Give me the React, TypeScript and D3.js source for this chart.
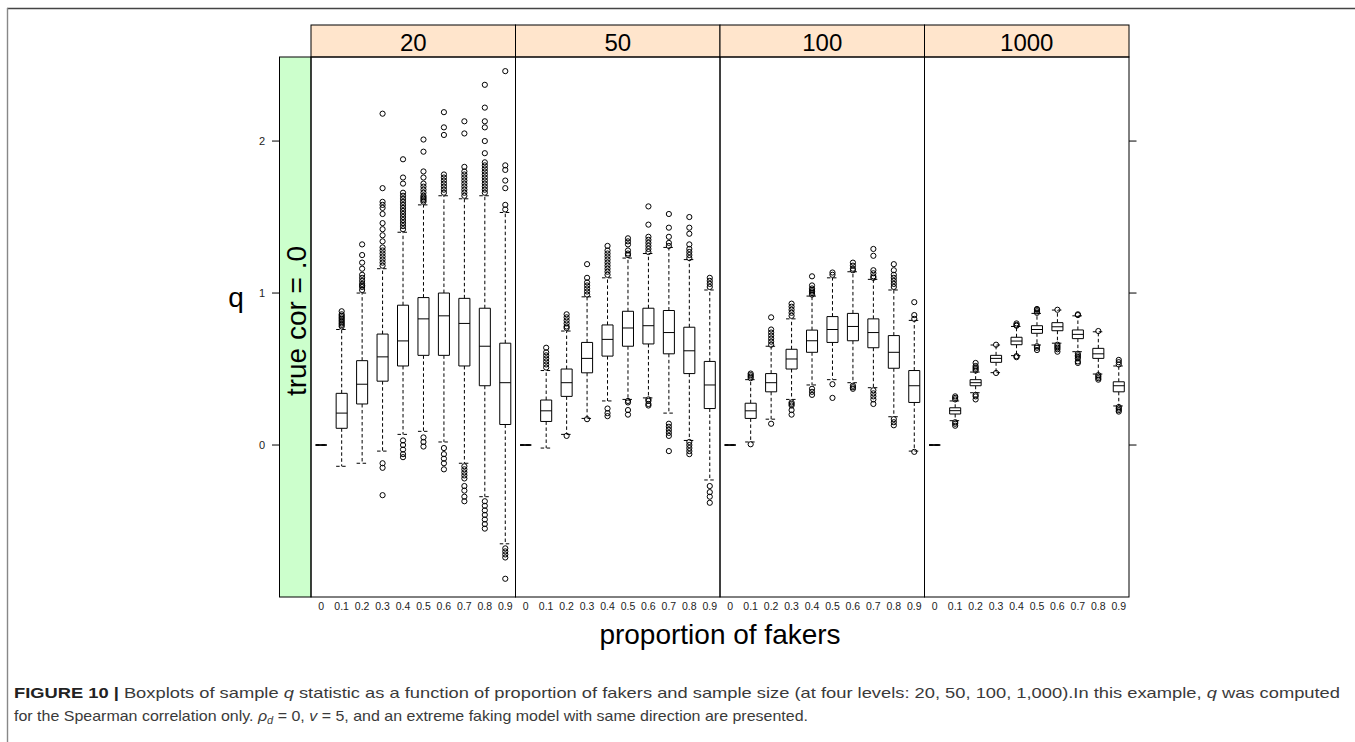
import React from 'react';
import * as d3 from 'd3';

const sampleSizes = ['20', '50', '100', '1000'];
const proportions = ['0', '0.1', '0.2', '0.3', '0.4', '0.5', '0.6', '0.7', '0.8', '0.9'];
const yTicks = [0, 1, 2];

// [lower whisker, Q1, median, Q3, upper whisker] for each proportion
const stats20 = [
  [0, 0, 0, 0, 0],
  [-0.14, 0.11, 0.21, 0.34, 0.76],
  [-0.12, 0.27, 0.40, 0.555, 1.0],
  [-0.04, 0.42, 0.58, 0.73, 1.16],
  [0.07, 0.52, 0.685, 0.92, 1.40],
  [0.09, 0.59, 0.83, 0.97, 1.58],
  [0.02, 0.59, 0.85, 1.0, 1.64],
  [-0.12, 0.52, 0.80, 0.965, 1.62],
  [-0.34, 0.39, 0.65, 0.90, 1.64],
  [-0.65, 0.135, 0.41, 0.67, 1.53],
];
const out20 = [
  [],
  [0.78, 0.79, 0.80, 0.81, 0.82, 0.83, 0.84, 0.85, 0.86, 0.88],
  [1.02, 1.04, 1.05, 1.06, 1.08, 1.10, 1.12, 1.16, 1.20, 1.25, 1.32],
  [1.18, 1.20, 1.22, 1.24, 1.26, 1.28, 1.30, 1.34, 1.38, 1.42, 1.46, 1.52, 1.56, 1.58, 1.60, 1.69, 2.18, -0.12, -0.15, -0.33],
  [1.42, 1.44, 1.46, 1.48, 1.50, 1.52, 1.54, 1.56, 1.58, 1.60, 1.62, 1.64, 1.66, 1.72, 1.76, 1.88, 0.03, 0.0, -0.03, -0.06, -0.08],
  [1.60, 1.61, 1.62, 1.63, 1.64, 1.66, 1.68, 1.70, 1.72, 1.76, 1.80, 1.93, 2.01, 0.05, 0.02, -0.01],
  [1.66, 1.68, 1.70, 1.72, 1.74, 1.76, 1.78, 2.04, 2.09, 2.19, -0.02, -0.06, -0.09, -0.12, -0.16],
  [1.64, 1.66, 1.68, 1.70, 1.72, 1.74, 1.76, 1.78, 1.80, 1.83, 2.05, 2.13, -0.14, -0.16, -0.18, -0.20, -0.22, -0.27, -0.30, -0.34, -0.37],
  [1.66, 1.68, 1.70, 1.72, 1.74, 1.76, 1.78, 1.80, 1.82, 1.84, 1.86, 1.92, 2.0, 2.09, 2.13, 2.22, 2.37, -0.37, -0.40, -0.43, -0.46, -0.49, -0.52, -0.55],
  [1.55, 1.58, 1.69, 1.74, 1.81, 1.84, 2.46, -0.68, -0.70, -0.72, -0.74, -0.88],
];

const stats50 = [
  [0, 0, 0, 0, 0],
  [-0.02, 0.155, 0.225, 0.296, 0.49],
  [0.07, 0.32, 0.41, 0.50, 0.75],
  [0.175, 0.475, 0.57, 0.675, 0.975],
  [0.29, 0.585, 0.695, 0.79, 1.10],
  [0.30, 0.65, 0.77, 0.88, 1.23],
  [0.31, 0.665, 0.785, 0.90, 1.26],
  [0.21, 0.60, 0.74, 0.885, 1.30],
  [0.03, 0.47, 0.62, 0.775, 1.22],
  [-0.23, 0.24, 0.395, 0.55, 1.02],
];
const out50 = [
  [],
  [0.51, 0.53, 0.55, 0.57, 0.59, 0.61, 0.64],
  [0.77, 0.78, 0.80, 0.82, 0.84, 0.86, 0.06],
  [0.99, 1.01, 1.03, 1.05, 1.07, 1.10, 1.19, 0.17],
  [1.12, 1.14, 1.16, 1.18, 1.20, 1.22, 1.24, 1.26, 1.28, 1.31, 0.24, 0.21, 0.19],
  [1.25, 1.26, 1.28, 1.32, 1.34, 1.36, 0.29, 0.28, 0.23, 0.20],
  [1.27, 1.29, 1.31, 1.33, 1.35, 1.37, 1.45, 1.57, 0.30, 0.29, 0.27, 0.26],
  [1.31, 1.33, 1.37, 1.43, 1.52, 0.14, 0.12, 0.10, 0.08, 0.06, -0.04],
  [1.23, 1.25, 1.27, 1.29, 1.32, 1.39, 1.43, 1.50, 0.02, 0.0, -0.02, -0.04, -0.06],
  [1.04, 1.06, 1.08, 1.10, -0.27, -0.31, -0.34, -0.38],
];

const stats100 = [
  [0, 0, 0, 0, 0],
  [0.02, 0.175, 0.225, 0.275, 0.43],
  [0.17, 0.35, 0.41, 0.47, 0.65],
  [0.30, 0.50, 0.566, 0.63, 0.83],
  [0.395, 0.61, 0.686, 0.756, 0.98],
  [0.43, 0.675, 0.76, 0.845, 1.10],
  [0.41, 0.686, 0.78, 0.866, 1.14],
  [0.377, 0.64, 0.74, 0.83, 1.09],
  [0.186, 0.505, 0.61, 0.72, 1.02],
  [-0.04, 0.28, 0.39, 0.49, 0.82],
];
const out100 = [
  [],
  [0.44, 0.45, 0.46, 0.47, 0.005],
  [0.66, 0.68, 0.70, 0.72, 0.74, 0.76, 0.84, 0.14],
  [0.85, 0.87, 0.89, 0.91, 0.93, 0.28, 0.27, 0.26, 0.23, 0.20],
  [0.99, 1.0, 1.01, 1.02, 1.03, 1.05, 1.11, 0.37, 0.35, 0.33],
  [1.12, 1.135, 0.40, 0.31],
  [1.15, 1.16, 1.18, 1.20, 0.39, 0.38, 0.37],
  [1.10, 1.11, 1.13, 1.15, 1.245, 1.29, 0.36, 0.34, 0.32, 0.30, 0.27],
  [1.04, 1.06, 1.08, 1.10, 1.12, 1.15, 1.19, 0.17, 0.15, 0.13],
  [0.83, 0.855, 0.94, -0.045],
];

const stats1000 = [
  [0, 0, 0, 0, 0],
  [0.16, 0.204, 0.226, 0.245, 0.29],
  [0.344, 0.39, 0.41, 0.43, 0.48],
  [0.476, 0.544, 0.57, 0.59, 0.658],
  [0.588, 0.66, 0.684, 0.709, 0.78],
  [0.658, 0.735, 0.76, 0.785, 0.866],
  [0.67, 0.752, 0.778, 0.805, 0.888],
  [0.614, 0.70, 0.728, 0.757, 0.85],
  [0.467, 0.57, 0.60, 0.636, 0.745],
  [0.257, 0.35, 0.39, 0.416, 0.52],
];
const out1000 = [
  [],
  [0.30, 0.31, 0.32, 0.15, 0.14, 0.127],
  [0.49, 0.50, 0.51, 0.52, 0.54, 0.33, 0.32, 0.30],
  [0.66, 0.474],
  [0.785, 0.79, 0.80, 0.585, 0.578],
  [0.87, 0.88, 0.89, 0.895, 0.65, 0.64, 0.625],
  [0.89, 0.66, 0.65, 0.64, 0.63, 0.614],
  [0.855, 0.86, 0.60, 0.59, 0.58, 0.57, 0.55, 0.54],
  [0.75, 0.46, 0.45, 0.44, 0.43],
  [0.53, 0.545, 0.56, 0.25, 0.24, 0.23, 0.22],
];

const panelStats = [stats20, stats50, stats100, stats1000];
const panelOutliers = [out20, out50, out100, out1000];

const W = 1355;
const H = 742;
const PLOT_TOP = 57;
const PLOT_BOTTOM = 597;
const STRIP_TOP = 25;

export default function App() {
  const panelX = d3.scaleBand<string>().domain(sampleSizes).range([311, 1129]).padding(0);
  const y = d3.scaleLinear().domain([-1, 2.553]).range([PLOT_BOTTOM, PLOT_TOP]);
  const font = 'Arial, "Liberation Sans", Helvetica, sans-serif';
  const capFont = '"Liberation Sans Narrow", Arial, "Liberation Sans", sans-serif';
  const dash = '3.5,2.5';

  return (
    <svg width={W} height={H} style={{ position: 'absolute', left: 0, top: 0, background: '#fff' }}>
      {/* figure frame */}
      <line x1={7} y1={8.5} x2={W} y2={8.5} stroke="#444" strokeWidth={1.6} />
      <line x1={7.5} y1={8} x2={7.5} y2={H} stroke="#888" strokeWidth={1.4} />

      {/* left strip */}
      <rect x={279.5} y={PLOT_TOP} width={31.5} height={PLOT_BOTTOM - PLOT_TOP} fill="#ccffcc" stroke="#000" strokeWidth={1} />
      <text
        transform={`translate(306,${(PLOT_TOP + PLOT_BOTTOM) / 2 - 6}) rotate(-90)`}
        textAnchor="middle"
        fontFamily={font}
        fontSize={28}
        fill="#000"
      >
        true cor = .0
      </text>

      {/* y axis ticks left and right */}
      {yTicks.map((t) => (
        <g key={t}>
          <line x1={272} x2={279.5} y1={y(t)} y2={y(t)} stroke="#000" strokeWidth={1} />
          <text x={262} y={y(t) + 4} textAnchor="middle" fontFamily={font} fontSize={11} fill="#222">
            {t}
          </text>
          <line x1={1129} x2={1136.5} y1={y(t)} y2={y(t)} stroke="#000" strokeWidth={1} />
        </g>
      ))}
      <text x={236} y={307} textAnchor="middle" fontFamily={font} fontSize={28} fill="#000">
        q
      </text>

      {sampleSizes.map((s, i) => {
        const x0 = panelX(s) as number;
        const bw = panelX.bandwidth();
        const xs = d3.scaleBand<string>().domain(proportions).range([x0, x0 + bw]).padding(0);
        const boxW = xs.bandwidth() * 0.54;
        const stats = panelStats[i];
        const outs = panelOutliers[i];
        return (
          <g key={s}>
            {/* strip */}
            <rect x={x0} y={STRIP_TOP} width={bw} height={PLOT_TOP - STRIP_TOP} fill="#ffe5cc" stroke="#000" strokeWidth={1} />
            <text x={x0 + bw / 2} y={51} textAnchor="middle" fontFamily={font} fontSize={24} fill="#000">
              {s}
            </text>
            {/* panel */}
            <rect x={x0} y={PLOT_TOP} width={bw} height={PLOT_BOTTOM - PLOT_TOP} fill="none" stroke="#000" strokeWidth={1} />
            {proportions.map((p, j) => {
              const cx = (xs(p) as number) + xs.bandwidth() / 2;
              const [lo, q1, med, q3, hi] = stats[j];
              const l = cx - boxW / 2;
              const r = cx + boxW / 2;
              return (
                <g key={p}>
                  <line x1={cx} x2={cx} y1={y(q3)} y2={y(hi)} stroke="#000" strokeWidth={1} strokeDasharray={dash} />
                  <line x1={cx} x2={cx} y1={y(q1)} y2={y(lo)} stroke="#000" strokeWidth={1} strokeDasharray={dash} />
                  <line x1={l} x2={r} y1={y(hi)} y2={y(hi)} stroke="#000" strokeWidth={1} strokeDasharray={dash} />
                  <line x1={l} x2={r} y1={y(lo)} y2={y(lo)} stroke="#000" strokeWidth={1} strokeDasharray={dash} />
                  <path
                    d={`M${l},${y(q3)}H${r}V${y(q1)}H${l}Z`}
                    fill="#fff"
                    stroke="#000"
                    strokeWidth={1}
                  />
                  <line x1={l} x2={r} y1={y(med)} y2={y(med)} stroke="#000" strokeWidth={1} />
                  {outs[j].map((v, k) => (
                    <circle key={k} cx={cx} cy={y(v)} r={2.6} fill="none" stroke="#000" strokeWidth={1} />
                  ))}
                  <text x={cx} y={610} textAnchor="middle" fontFamily={font} fontSize={10.5} fill="#222">
                    {p}
                  </text>
                </g>
              );
            })}
          </g>
        );
      })}

      <text x={720} y={644} textAnchor="middle" fontFamily={font} fontSize={28} fill="#000">
        proportion of fakers
      </text>

      {/* caption */}
      <text x={14} y={698} fontFamily={capFont} fontSize={14.5} fill="#3a3a3a" textLength={1326} lengthAdjust="spacingAndGlyphs">
        <tspan fontWeight="bold" fill="#222">FIGURE 10 | </tspan>
        <tspan>Boxplots of sample </tspan>
        <tspan fontStyle="italic">q</tspan>
        <tspan> statistic as a function of proportion of fakers and sample size (at four levels: 20, 50, 100, 1,000).In this example, </tspan>
        <tspan fontStyle="italic">q</tspan>
        <tspan> was computed</tspan>
      </text>
      <text x={14} y={721} fontFamily={capFont} fontSize={14.5} fill="#3a3a3a" textLength={794} lengthAdjust="spacingAndGlyphs">
        <tspan>for the Spearman correlation only. </tspan>
        <tspan fontStyle="italic">ρ</tspan>
        <tspan fontStyle="italic" fontSize={10} dy={3}>d</tspan>
        <tspan dy={-3}> = 0, </tspan>
        <tspan fontStyle="italic">v</tspan>
        <tspan> = 5, and an extreme faking model with same direction are presented.</tspan>
      </text>
    </svg>
  );
}
